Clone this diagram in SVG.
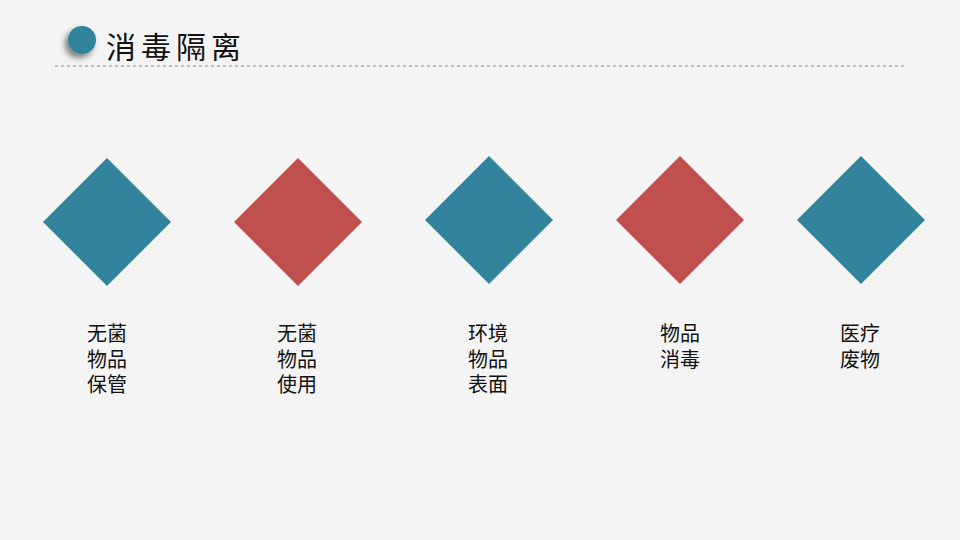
<svg xmlns="http://www.w3.org/2000/svg" width="960" height="540" viewBox="0 0 960 540">
<defs>
<style>
.t{font-family:"Liberation Sans","Noto Sans CJK SC",sans-serif;font-size:20px;fill:#111;}
.teal{fill:#31849b;}
.red{fill:#c0504d;}
</style>
<filter id="sh" x="-100%" y="-100%" width="300%" height="300%">
<feGaussianBlur in="SourceAlpha" stdDeviation="3"/>
<feOffset dx="-3" dy="4"/>
<feComponentTransfer><feFuncA type="linear" slope="0.5"/></feComponentTransfer>
<feMerge><feMergeNode/><feMergeNode in="SourceGraphic"/></feMerge>
</filter>
</defs>
<rect width="960" height="540" fill="#f4f4f4"/>
<g id="title">
<circle cx="82" cy="40" r="14" fill="#31849b" filter="url(#sh)"/>
<text x="106" y="58" style="font-family:'Liberation Sans','Noto Sans CJK SC',sans-serif;font-size:30px;fill:#111;letter-spacing:5px">消毒隔离</text>
<line x1="55" y1="66" x2="905" y2="66" stroke="#8c8c8c" stroke-width="1" stroke-dasharray="3,3"/>
</g>
<g id="node1">
<polygon class="teal" points="107,158 171,222 107,286 43,222"/>
<text class="t" x="87" y="341">无菌</text>
<text class="t" x="87" y="366.5">物品</text>
<text class="t" x="87" y="392">保管</text>
</g>
<g id="node2">
<polygon class="red" points="298,158 362,222 298,286 234,222"/>
<text class="t" x="277" y="341">无菌</text>
<text class="t" x="277" y="366.5">物品</text>
<text class="t" x="277" y="392">使用</text>
</g>
<g id="node3">
<polygon class="teal" points="489,156 553,220 489,284 425,220"/>
<text class="t" x="468" y="341">环境</text>
<text class="t" x="468" y="366.5">物品</text>
<text class="t" x="468" y="392">表面</text>
</g>
<g id="node4">
<polygon class="red" points="680,156 744,220 680,284 616,220"/>
<text class="t" x="660" y="341">物品</text>
<text class="t" x="660" y="366.5">消毒</text>
</g>
<g id="node5">
<polygon class="teal" points="861,156 925,220 861,284 797,220"/>
<text class="t" x="840" y="341">医疗</text>
<text class="t" x="840" y="366.5">废物</text>
</g>
<g id="connectors"></g>
</svg>
